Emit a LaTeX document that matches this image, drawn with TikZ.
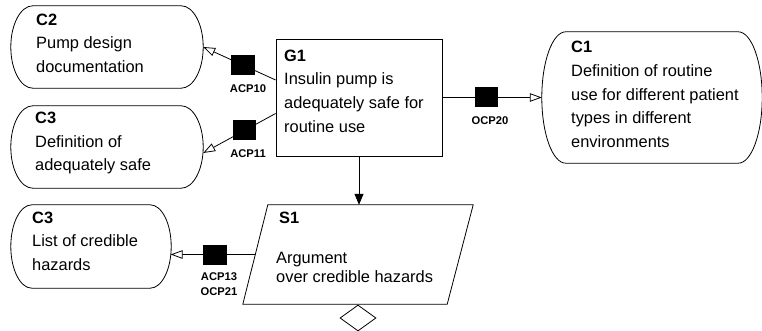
\documentclass[tikz,border=0pt]{standalone}
\usepackage{fontspec}
\setmainfont{Liberation Sans}
\usetikzlibrary{arrows.meta,calc,shapes.geometric}
\newcommand\ctxoutline[2]{%
 \draw[ln] ([xshift=#2pt]#1.north west) -- ([xshift=-#2pt]#1.north east)
 .. controls ([xshift={-0.448*#2pt}]#1.north east) and ($(#1.east)!0.552!(#1.north east)$) .. (#1.east)
 .. controls ($(#1.east)!0.552!(#1.south east)$) and ([xshift={-0.448*#2pt}]#1.south east) .. ([xshift=-#2pt]#1.south east)
 -- ([xshift=#2pt]#1.south west)
 .. controls ([xshift={0.448*#2pt}]#1.south west) and ($(#1.west)!0.552!(#1.south west)$) .. (#1.west)
 .. controls ($(#1.west)!0.552!(#1.north west)$) and ([xshift={0.448*#2pt}]#1.north west) .. cycle;}
\begin{document}
\begin{tikzpicture}[x=1pt,y=-1pt,
  ln/.style={line width=0.8pt, draw=black},
  frame/.style={ln, draw, rectangle, inner sep=0pt},
  ctx/.style={rectangle, draw=none, inner sep=0pt},
  sq/.style={rectangle, fill=black, draw=none, inner sep=0pt, minimum width=23.5pt, minimum height=20pt},
  lbl/.style={inner sep=0pt, align=center, font=\fontsize{11.2}{15}\selectfont\bfseries},
  txt/.style={anchor=north west, inner sep=0pt, align=left, font=\fontsize{16.4}{23.7}\selectfont},
  opentip/.style={-{Triangle[open,length=12pt,width=8.5pt]}},
  solidtip/.style={-{Triangle[length=11pt,width=9pt]}}]
\useasboundingbox (0,0) rectangle (762,331);
\fill[white] (0,0) rectangle (762,331);

% boxes
\node[frame, minimum width=166pt, minimum height=117pt] (g1) at (359,97.5) {};
\node[ctx, minimum width=192pt, minimum height=82pt] (c2) at (107,47) {};
\node[ctx, minimum width=192pt, minimum height=82pt] (c3a) at (107,147) {};
\node[ctx, minimum width=220pt, minimum height=131pt] (c1) at (652,97.5) {};
\node[ctx, minimum width=160pt, minimum height=83pt] (c3b) at (91,246.5) {};
\node[ctx, minimum width=230pt, minimum height=99pt] (s1) at (358,254.5) {};
\ctxoutline{c2}{22}
\ctxoutline{c3a}{22}
\ctxoutline{c1}{24}
\ctxoutline{c3b}{21}
\draw[ln] ([xshift=25pt]s1.north west) -- (s1.north east) -- ([xshift=-26pt]s1.south east) -- (s1.south west) -- cycle;
\node[diamond, ln, draw, inner sep=0pt, minimum width=36pt, minimum height=26pt] (d1) at (358,318) {};

% texts
\node[txt] (t1) at (284,49) {\rule{0pt}{12pt}\textbf{G1}\\Insulin pump is\\adequately safe for\\routine use};
\node[txt] (t2) at (36,13) {\rule{0pt}{12pt}\textbf{C2}\\Pump design\\documentation};
\node[txt] (t3) at (35,111.3) {\rule{0pt}{12pt}\textbf{C3}\\Definition of\\adequately safe};
\node[txt] (t4) at (571,40.7) {\rule{0pt}{12pt}\textbf{C1}\\Definition of routine\\use for different patient\\types in different\\environments};
\node[txt] (t5) at (32,211) {\rule{0pt}{12pt}\textbf{C3}\\List of credible\\hazards};
\node[txt] (t6) at (279,211) {\rule{0pt}{12pt}\textbf{S1}};
\node[txt, font=\fontsize{16.4}{19}\selectfont] (t7) at (276,251.3) {\rule{0pt}{12pt}Argument\\over credible hazards};

% connectors
\draw[ln, opentip] ([yshift=17.5pt]g1.west) -- node[sq, pos=0.45] (q10) {} (c2.east);
\draw[ln, opentip] ([yshift=-16pt]g1.west) -- node[sq, pos=0.43] (q11) {} ([yshift=-6pt]c3a.east);
\draw[ln, opentip] (g1.east) -- node[sq, pos=0.445] (q20) {} (c1.west);
\draw[ln, solidtip] (g1.south) -- (g1.south |- s1.north);
\coordinate (s1l) at ($([xshift=25pt]s1.north west)!0.5!(s1.south west)$);
\coordinate (c3bp) at (170.6,254.5);
\draw[ln, opentip] (s1l) -- node[sq, pos=0.477] (q13) {} (c3bp);

% connector labels
\node[lbl] (l10) at (248,89) {ACP10};
\node[lbl] (l11) at (248,154) {ACP11};
\node[lbl] (l20) at (490,121) {OCP20};
\node[lbl] (l13) at (219,284.5) {ACP13\\OCP21};
\end{tikzpicture}
\end{document}
